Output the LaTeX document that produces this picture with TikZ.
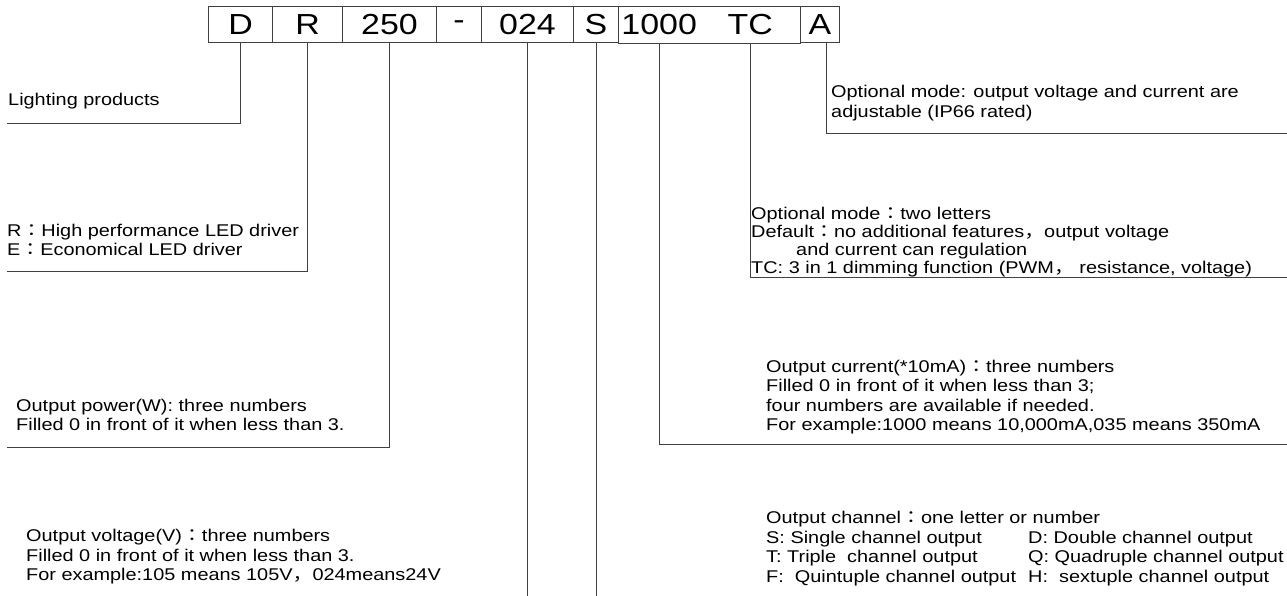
\documentclass[tikz,border=0pt]{standalone}
\usepackage{fontspec}
\setmainfont{Liberation Sans}[FakeStretch=1.17]
\newfontfamily\cjk{Noto Sans CJK JP}[FakeStretch=1.17]
\newcommand{\zcolon}{{\cjk ：}}
\newcommand{\zcomma}{{\cjk ，}}
\definecolor{linecol}{HTML}{404040}

\begin{document}
\begin{tikzpicture}[x=1pt, y=-1pt,
    every node/.style={font=\fontsize{17}{19.5}\selectfont},
    opencell/.style={rectangle, minimum height=36pt, inner sep=0pt,
                     font=\fontsize{29}{33}\selectfont},
    cell/.style={opencell, draw=linecol, line width=1pt},
    desc/.style={anchor=west, align=left, inner sep=0pt},
    conn/.style={draw=linecol, line width=1pt},
]
\useasboundingbox (0,0) rectangle (1287,596);

% the type code, one cell per part (1000 and TC share one frame)
\foreach \nm/\x/\w/\t/\st in {D/208/64/D/cell, R/272/70/R/cell, 250/342/94/250/cell,
        dash/436/45/-/cell, 024/481/92/024/cell, S/573/45/S/cell,
        1000/618/82/1000/opencell, TC/700/100/TC/opencell, A/800/39/A/cell}{
    \node[\st, minimum width=\w pt, anchor=west] (c\nm) at (\x, 25) {\t};
}
\draw[conn] (c1000.north west) rectangle (cTC.south east);

% free ends of the leaders
\coordinate (eD) at (7, 124);
\coordinate (eR) at (7, 271);
\coordinate (e250) at (7, 447);
\coordinate (e024) at (527, 596);
\coordinate (eS) at (594, 596);
\coordinate (e1000) at (1287, 444);
\coordinate (eTC) at (1287, 277);
\coordinate (eA) at (1287, 134);

% left side
\node[desc] (tD) at (8, 101) {Lighting products};
\node[desc] (tR) at (7, 240)
    {R\zcolon High performance LED driver\\E\zcolon Economical LED driver};
\node[desc] (t250) at (16, 415)
    {Output power(W): three numbers\\Filled 0 in front of it when less than 3.};
\node[desc] (t024) at (26, 557)
    {Output voltage(V)\zcolon three numbers\\Filled 0 in front of it when less than 3.\\
     For example:105 means 105V\zcomma 024means24V};

% right side
\node[desc] (tA) at (831, 103)
    {Optional mode: output voltage and current are\\adjustable (IP66 rated)};
\node[desc, font=\fontsize{17}{18}\selectfont] (tTC) at (751, 242)
    {Optional mode\zcolon two letters\\Default\zcolon no additional features\zcomma output voltage\\
     \hspace*{45pt}and current can regulation\\
     TC: 3 in 1 dimming function (PWM\zcomma\ resistance, voltage)};
\node[desc] (t1000) at (766, 397)
    {Output current(*10mA)\zcolon three numbers\\Filled 0 in front of it when less than 3;\\
     four numbers are available if needed.\\For example:1000 means 10,000mA,035 means 350mA};
\node[desc] (tS) at (766, 549)
    {\begin{tabular}{@{}p{262pt}@{}l@{}}
     \multicolumn{2}{@{}l@{}}{Output channel\zcolon one letter or number}\\
     S: Single channel output & D: Double channel output\\
     T: Triple\ \ channel output & Q: Quadruple channel output\\
     F:\ \ Quintuple channel output & H:\ \ sextuple channel output
     \end{tabular}};

% leaders
\draw[conn] (cD.south) |- (eD);
\draw[conn] (cR.south) |- (eR);
\draw[conn] (c250.south) |- (e250);
\draw[conn] (c024.south) -- (c024.south |- e024);
\draw[conn] (cS.south) -- (cS.south |- eS);
\draw[conn] (c1000.south) |- (e1000);
\draw[conn] (cTC.south) |- (eTC);
\draw[conn] ([xshift=6pt]cA.south) |- (eA);
\end{tikzpicture}
\end{document}
